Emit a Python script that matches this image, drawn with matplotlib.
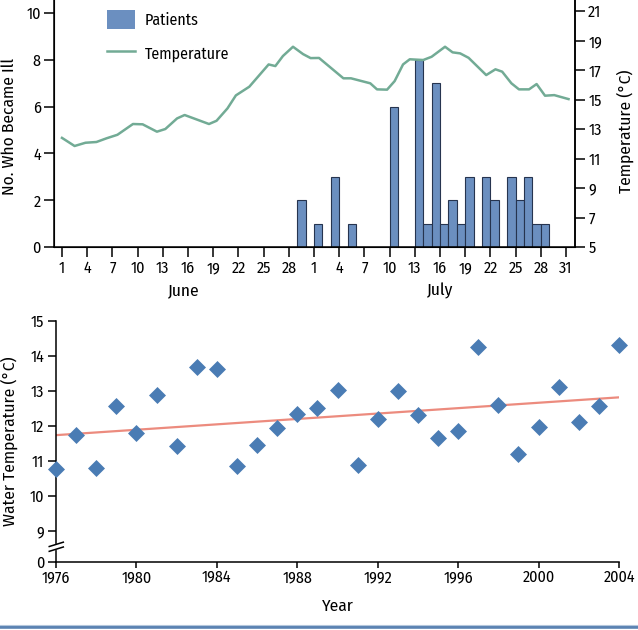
import matplotlib
matplotlib.use("Agg")
import matplotlib.pyplot as plt
from matplotlib.patches import Rectangle
from matplotlib.lines import Line2D
from matplotlib.legend_handler import HandlerPatch
import numpy as np

plt.rcParams['font.family'] = ['Fira Sans Condensed', 'DejaVu Sans']
plt.rcParams['font.weight'] = 'normal'
plt.rcParams['axes.labelweight'] = 'normal'

# ---------------- data: top chart ----------------
june_tick_days = [1, 4, 7, 10, 13, 16, 19, 22, 25, 28]
july_tick_days = [1, 4, 7, 10, 13, 16, 19, 22, 25, 28, 31]
months = ["June", "July"]

# patient bars: (month, day) of onset and number who became ill
patient_month = ["Jun", "Jul", "Jul", "Jul", "Jul", "Jul", "Jul", "Jul", "Jul", "Jul",
                 "Jul", "Jul", "Jul", "Jul", "Jul", "Jul", "Jul", "Jul", "Jul"]
patient_day = [29, 1, 3, 5, 10, 13, 14, 15, 16, 17, 18, 19, 21, 22, 24, 25, 26, 27, 28]
patient_count = [2, 1, 3, 1, 6, 8, 1, 7, 1, 2, 1, 3, 3, 2, 3, 2, 3, 1, 1]

# water temperature: days since June 1 and degrees C
temp_day = [0, 1.5, 2.8, 4.1, 5.3, 6.6, 8.45, 9.6, 11.3, 12.3, 13.7, 14.6, 17.5, 18.4,
            19.7, 20.7, 22.3, 24.6, 25.4, 26.3, 27.5, 28.7, 29.6, 30.6, 33.5, 34.4,
            36.7, 37.5, 38.7, 39.6, 40.6, 41.4, 43.0, 44.0, 45.6, 46.5, 47.4, 48.4,
            50.5, 51.6, 52.4, 53.5, 54.4, 55.6, 56.5, 57.5, 58.6, 60.3]
temp_val = [12.4, 11.85, 12.07, 12.12, 12.37, 12.61, 13.34, 13.32, 12.82, 13.0, 13.72,
            13.95, 13.34, 13.56, 14.4, 15.28, 15.87, 17.38, 17.27, 17.95, 18.58, 18.08,
            17.81, 17.82, 16.44, 16.44, 16.1, 15.69, 15.67, 16.25, 17.38, 17.73, 17.68,
            17.9, 18.58, 18.2, 18.13, 17.83, 16.66, 17.05, 16.89, 16.1, 15.69, 15.69,
            16.05, 15.26, 15.3, 15.03]

left_ticks = [0, 2, 4, 6, 8, 10]
right_ticks = [5, 7, 9, 11, 13, 15, 17, 19, 21]

# ---------------- data: bottom chart ----------------
years = list(range(1976, 2005))
water_temp = [10.76, 11.73, 10.8, 12.57, 11.78, 12.89, 11.43, 13.68, 13.63, 10.85,
              11.46, 11.94, 12.33, 12.5, 13.02, 10.89, 12.18, 13.0, 12.31, 11.64,
              11.86, 14.24, 12.59, 11.2, 11.96, 13.11, 12.1, 12.57, 14.3]
trend_years = [1976, 2004]
trend_vals = [11.73, 12.81]
year_ticks = [1976, 1980, 1984, 1988, 1992, 1996, 2000, 2004]
wt_ticks = [9, 10, 11, 12, 13, 14, 15]

# ---------------- styling ----------------
BAR = '#6b8fc0'
BAR_EDGE = '#26344f'
LINE = '#72ab95'
DOT = '#4a7cb4'
TREND = '#ec8b7e'
TICK_FS = 11.5
LAB_FS = 12.5

month_offset = {"Jun": 0, "Jul": 30}


def day_index(month, day):
    return month_offset[month] + day - 1


W, H = 638, 630
fig = plt.figure(figsize=(W / 100, H / 100), dpi=100)


def pos(l, r, b, t):
    return [l / W, 1 - b / H, (r - l) / W, (b - t) / H]


# ---------------- top chart ----------------
ax = fig.add_axes(pos(54, 575, 247, 0))
bx = [day_index(m, d) for m, d in zip(patient_month, patient_day)]
bars = ax.bar(bx, patient_count, width=1, align='edge', color=BAR,
              edgecolor=BAR_EDGE, linewidth=0.8, label='Patients', zorder=2)
ax.set_xlim(-0.95, 61.07)
ax.set_ylim(0, 10.55)
ax.set_yticks(left_ticks)
xt = [day_index("Jun", d) for d in june_tick_days] + [day_index("Jul", d) for d in july_tick_days]
xl = [str(d) for d in june_tick_days] + [str(d) for d in july_tick_days]
ax.set_xticks(xt)
ax.set_xticklabels(xl)
ax.spines['top'].set_visible(False)
for s in ['left', 'bottom', 'right']:
    ax.spines[s].set_linewidth(1.1)
ax.tick_params(axis='both', labelsize=TICK_FS, length=7, width=1.1, pad=2.5)
ax.set_ylabel("No. Who Became Ill", fontsize=LAB_FS)
ax.yaxis.set_label_coords(-0.07, 0.49)

month_centers = [np.mean([day_index("Jun", d) for d in (1, 30)]),
                 np.mean([day_index("Jul", d) for d in (1, 31)])]
for mc, name in zip(month_centers, months):
    ax.text(mc, -0.178, name, fontsize=LAB_FS, ha='center', va='center',
            transform=ax.get_xaxis_transform())

ax2 = ax.twinx()
line, = ax2.plot(temp_day, temp_val, color=LINE, lw=1.8, label='Temperature', zorder=3)
ax2.set_ylim(5, 21.75)
ax2.set_yticks(right_ticks)
ax2.spines['top'].set_visible(False)
ax2.spines['right'].set_linewidth(1.1)
ax2.tick_params(axis='y', labelsize=TICK_FS, length=7, width=1.1, pad=2.5)
ax2.set_ylabel("Temperature (°C)", fontsize=LAB_FS)
ax2.yaxis.set_label_coords(1.08, 0.47)


def square_patch(legend, orig_handle, xdescent, ydescent, width, height, fontsize):
    s = height
    return Rectangle((width - s - xdescent, -ydescent), s, s)


leg = ax2.legend([bars, line], ['Patients', 'Temperature'], loc='upper left',
                 bbox_to_anchor=(0.102, 0.958), frameon=False, fontsize=11.5,
                 handlelength=1.75, handleheight=1.4, handletextpad=0.6,
                 labelspacing=0.95, borderpad=0, borderaxespad=0,
                 handler_map={type(bars.patches[0]): HandlerPatch(patch_func=square_patch)})
for p in leg.get_patches():
    p.set_edgecolor('none')
    p.set_facecolor(BAR)

# ---------------- bottom chart ----------------
bx_ = fig.add_axes(pos(56, 619, 561.7, 320.7))
bx_.scatter(years, water_temp, marker='D', s=75, color=DOT, zorder=3, linewidths=0,
            clip_on=False)
bx_.plot(trend_years, trend_vals, color=TREND, lw=1.6, zorder=2)
bx_.set_xlim(1976, 2004)
ybottom = 9 - 31 / 35
bx_.set_ylim(ybottom, 15)
bx_.set_yticks([ybottom] + wt_ticks)
bx_.set_yticklabels(['0'] + [str(v) for v in wt_ticks])
bx_.set_xticks(year_ticks)
for s in ['top', 'right']:
    bx_.spines[s].set_visible(False)
for s in ['left', 'bottom']:
    bx_.spines[s].set_linewidth(1.1)
bx_.tick_params(axis='y', labelsize=TICK_FS, length=6, width=1.1, pad=2.5)
bx_.tick_params(axis='x', labelsize=TICK_FS, length=4, width=1.1, pad=1.5)
bx_.set_xlabel("Year", fontsize=LAB_FS)
bx_.xaxis.set_label_coords(0.5, -0.151)
bx_.set_ylabel("Water Temperature (°C)", fontsize=LAB_FS)
bx_.yaxis.set_label_coords(-0.068, 0.5)

# axis break marks
yb1, yb2 = 0.052, 0.072
bx_.plot([0, 0], [yb1 + 0.005, yb2 - 0.005], transform=bx_.transAxes, color='white',
         lw=3, clip_on=False, zorder=5)
for yb in (yb1, yb2):
    bx_.plot([-0.012, 0.013], [yb - 0.009, yb + 0.009], transform=bx_.transAxes,
             color='black', lw=1.1, clip_on=False, zorder=6)

# bottom rule
fig.add_artist(Line2D([0, 1], [3 / H, 3 / H], color='#5a82b2', lw=2.6))
fig.add_artist(Line2D([0, 1], [5.5 / H, 5.5 / H], color='#b3c6dc', lw=0.8))

fig.savefig("out.png", dpi=100)
